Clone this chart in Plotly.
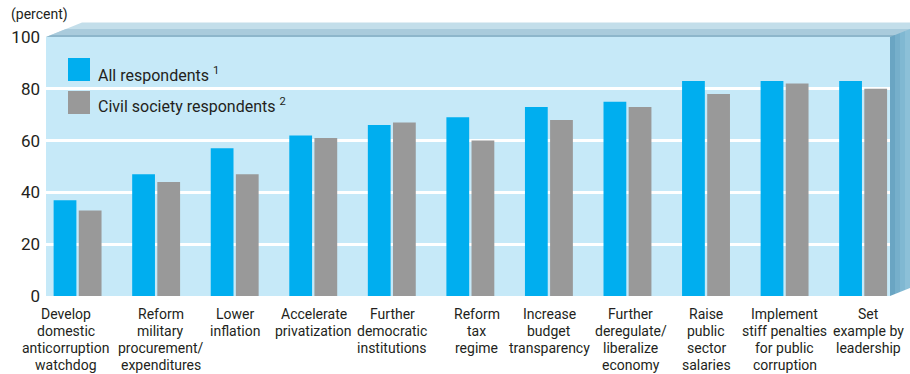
import plotly.graph_objects as go

# ---------------- data ----------------
categories = [
    "Develop<br>domestic<br>anticorruption<br>watchdog",
    "Reform<br>military<br>procurement/<br>expenditures",
    "Lower<br>inflation",
    "Accelerate<br>privatization",
    "Further<br>democratic<br>institutions",
    "Reform<br>tax<br>regime",
    "Increase<br>budget<br>transparency",
    "Further<br>deregulate/<br>liberalize<br>economy",
    "Raise<br>public<br>sector<br>salaries",
    "Implement<br>stiff penalties<br>for public<br>corruption",
    "Set<br>example by<br>leadership",
]
all_respondents = [37, 47, 57, 62, 66, 69, 73, 75, 83, 83, 83]
civil_society = [33, 44, 47, 61, 67, 60, 68, 73, 78, 82, 80]
y_ticks = [0, 20, 40, 60, 80, 100]
series_names = ["All respondents <sup>1</sup>", "Civil society respondents <sup>2</sup>"]

# ---------------- style ----------------
FONT = "Roboto, Liberation Sans, sans-serif"
TXT = "#231f20"
BLUE = "#00AEEF"
GRAY = "#999999"
FACE = "#C6E9F8"

W_PX, H_PX = 910, 374
L, R, T, B = 46, 890, 37, 296
PW, PH = R - L, B - T


def px(x):
    return (x - L) / PW


def py(y):
    return (B - y) / PH


def path(pts):
    return "M " + " L ".join(f"{px(x):.5f},{py(y):.5f}" for x, y in pts) + " Z"


idx = list(range(len(categories)))

fig = go.Figure()
fig.add_trace(go.Bar(x=idx, y=all_respondents, width=0.29, offset=-0.31,
                     marker=dict(color=BLUE, line=dict(width=0)),
                     name=series_names[0], showlegend=False))
fig.add_trace(go.Bar(x=idx, y=civil_society, width=0.29, offset=0.01,
                     marker=dict(color=GRAY, line=dict(width=0)),
                     name=series_names[1], showlegend=False))

shapes = []
DX, DY = 36, 14.5
# top face bands
shapes.append(dict(type="path", xref="paper", yref="paper", layer="above",
                   path=path([(L, T), (L + DX, T - DY), (R + DX + 40, T - DY), (R + 40, T)]),
                   fillcolor="#C3DEEA", line=dict(width=0)))


def xdiag(y, x0):
    return x0 + (T - y) * DX / DY


shapes.append(dict(type="path", xref="paper", yref="paper", layer="above",
                   path=path([(xdiag(35, L), 35), (xdiag(29, L), 29), (960, 29), (960, 35)]),
                   fillcolor="#A9CBDC", line=dict(width=0)))
shapes.append(dict(type="path", xref="paper", yref="paper", layer="above",
                   path=path([(L, T), (xdiag(35, L), 35), (960, 35), (960, T)]),
                   fillcolor="#8DB6CB", line=dict(width=0)))
# side face strips
strip_cols = ["#6AA5C3", "#76AFCB", "#80B8D2", "#8CC0D8", "#8CC0D8"]
for k, c in enumerate(strip_cols):
    x0, x1 = R + 5 * k, R + 5 * (k + 1)
    s0 = (x0 - R) * DY / DX
    s1 = (x1 - R) * DY / DX
    shapes.append(dict(type="path", xref="paper", yref="paper", layer="above",
                       path=path([(x0, T - s0), (x1, T - s1), (x1, B - s1), (x0, B - s0)]),
                       fillcolor=c, line=dict(width=0)))

# legend keys
shapes.append(dict(type="rect", xref="paper", yref="paper", layer="above",
                   x0=px(68), x1=px(90), y0=py(81), y1=py(58), fillcolor=BLUE, line=dict(width=0)))
shapes.append(dict(type="rect", xref="paper", yref="paper", layer="above",
                   x0=px(68), x1=px(90), y0=py(114), y1=py(91), fillcolor=GRAY, line=dict(width=0)))

annotations = []
annotations.append(dict(text=series_names[0], xref="paper", yref="paper", x=px(96), y=py(87),
                        xanchor="left", yanchor="bottom", showarrow=False,
                        font=dict(family=FONT, size=16, color=TXT)))
annotations.append(dict(text=series_names[1], xref="paper", yref="paper", x=px(96), y=py(118),
                        xanchor="left", yanchor="bottom", showarrow=False,
                        font=dict(family=FONT, size=16, color=TXT)))
annotations.append(dict(text="(percent)", xref="paper", yref="paper", x=px(9), y=py(25),
                        xanchor="left", yanchor="bottom", showarrow=False,
                        font=dict(family=FONT, size=14, color=TXT)))

# category labels, one line at a time (tight line pitch)
label_shift = {0: -12, 1: 4, 5: 6, 7: 3, 10: 5}
for i, lab in enumerate(categories):
    for k, line in enumerate(lab.split("<br>")):
        annotations.append(dict(text=line, xref="x", yref="paper", x=i, y=0,
                                xanchor="center", yanchor="top", showarrow=False,
                                xshift=label_shift.get(i, 0), yshift=-8 - 17 * k,
                                font=dict(family=FONT, size=14, color=TXT)))

fig.update_layout(
    width=W_PX, height=H_PX,
    margin=dict(l=L, r=W_PX - R, t=T, b=H_PX - B, pad=0),
    paper_bgcolor="white", plot_bgcolor=FACE,
    barmode="overlay",
    shapes=shapes, annotations=annotations,
    showlegend=False,
    font=dict(family=FONT, color=TXT),
)
fig.update_xaxes(range=[-0.407, 10.337], showticklabels=False, showgrid=False,
                 zeroline=False, showline=False, ticks="")
fig.update_yaxes(range=[0, 100], tickvals=y_ticks, showgrid=True, gridcolor="white",
                 gridwidth=2.5, zeroline=False, showline=False, ticks="",
                 ticklabelstandoff=5, tickfont=dict(family=FONT, size=17, color=TXT))

fig.write_html("out.html")
